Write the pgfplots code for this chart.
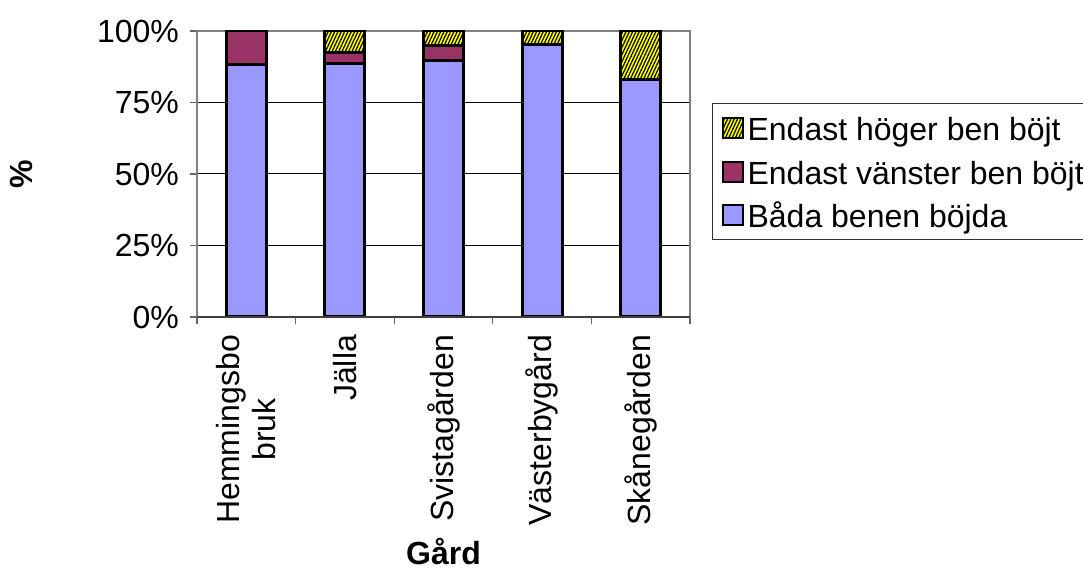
\documentclass[border=0pt]{standalone}
\usepackage{fontspec}
\setmainfont{Liberation Sans}
\usepackage{pgfplots}
\pgfplotsset{compat=1.18}
\usetikzlibrary{patterns.meta}
\definecolor{cblue}{HTML}{9999FF}
\definecolor{cmaroon}{HTML}{993366}
\definecolor{cyellow}{HTML}{FFFF00}
\pgfplotsset{
  sqlegend/.style={legend image code/.code={\draw[##1, line width=1pt] (0pt,-5pt) rectangle (10pt,5pt);}},
}
\begin{document}
\fontsize{16}{19}\selectfont
\begin{tikzpicture}
\begin{axis}[
  name=ax, at={(0,0)}, anchor=south west,
  scale only axis, width=246.5pt, height=143pt,
  ybar stacked, bar width=20pt,
  every axis plot/.append style={line width=1.5pt},
  xmin=-0.5, xmax=4.5, ymin=0, ymax=100,
  xtick={0,1,2,3,4},
  xticklabels={{Hemmingsbo\\bruk},Jälla,Svistagården,Västerbygård,Skånegården},
  xticklabel style={rotate=90, anchor=east, align=center, font=\fontsize{16}{18}\selectfont},
  major x tick style={draw=none},
  minor xtick={-0.5,0.5,1.5,2.5,3.5,4.5},
  minor tick length=3.5pt, major tick length=3.5pt,
  tick align=outside,
  every tick/.style={gray!80!black, line width=0.6pt},
  ytick={0,25,50,75,100},
  yticklabel={\pgfmathprintnumber{\tick}\%},
  /pgf/number format/assume math mode=true,
  yticklabel style={font=\fontsize{16}{18}\selectfont},
  ymajorgrids, major grid style={black, line width=0.5pt},
  axis line style={gray, line width=0.9pt},
  xtick pos=bottom, ytick pos=left,
  xlabel={\textbf{Gård}},
  xlabel style={at={(axis description cs:0.5,-0.82)}, anchor=center, font=\fontsize{16}{18}\selectfont},
  ylabel={\textbf{\%}},
  ylabel style={at={(axis description cs:-0.355,0.5)}, anchor=center, font=\fontsize{16}{18}\selectfont},
  legend style={at={(1.0446,0.748)}, anchor=north west, draw=black!80, line width=0.6pt, fill=white,
    inner xsep=4.5pt, inner ysep=2.5pt, row sep=2.25pt,
    font=\fontsize{16}{18}\selectfont,
    nodes={inner sep=2pt, text height=14pt, text depth=1.5pt}},
  legend cell align=left,
  reverse legend,
]
\addplot[fill=cblue, draw=black, /tikz/line width=1.5pt, sqlegend] coordinates {(0,88.2) (1,88.6) (2,89.8) (3,95.2) (4,83.1)};
\addplot[fill=cmaroon, draw=black, /tikz/line width=1.5pt, sqlegend] coordinates {(0,11.8) (1,3.8) (2,5.0) (3,0) (4,0)};
\addplot[fill=cyellow, draw=black, /tikz/line width=1.5pt, sqlegend,
  postaction={pattern={Lines[angle=65,distance=1.5pt,line width=0.6pt]}}] coordinates {(0,0) (1,7.6) (2,5.2) (3,4.8) (4,16.9)};
\legend{Båda benen böjda, Endast vänster ben böjt, Endast höger ben böjt}
\end{axis}
\draw[black!75, line width=0.9pt] (ax.south west) -- (ax.south east);
\pgfresetboundingbox
\useasboundingbox ([shift={(-98.5pt,-127.5pt)}]ax.south west) rectangle ([shift={(443pt,158.5pt)}]ax.south west);
\end{tikzpicture}
\end{document}
